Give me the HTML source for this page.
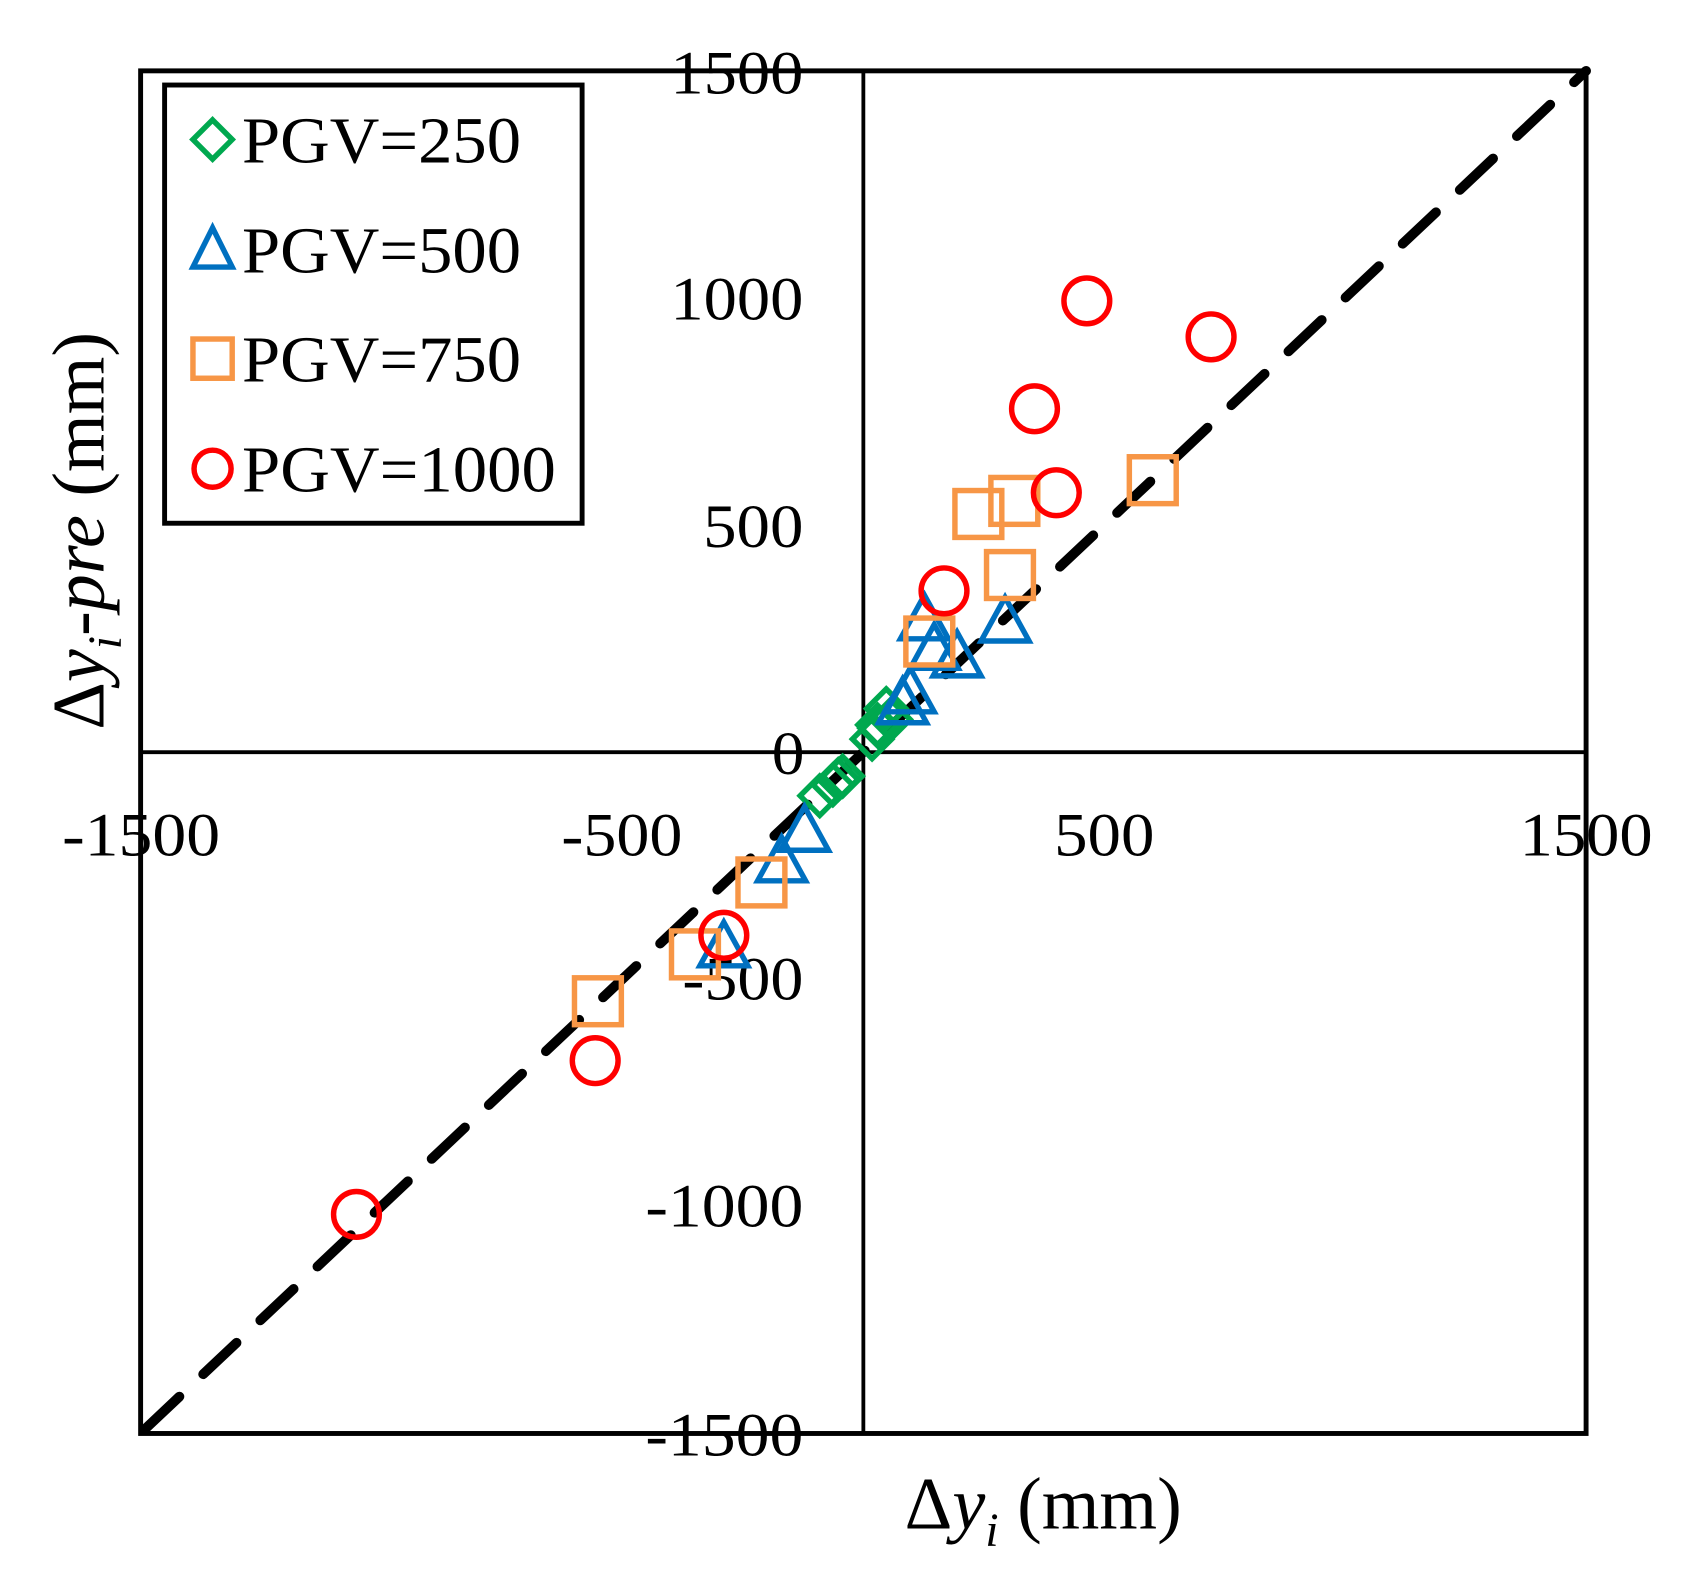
<!DOCTYPE html>
<html><head><meta charset="utf-8"><style>html,body{margin:0;padding:0;background:#fff}svg{display:block}</style></head>
<body>
<svg width="1706" height="1585" viewBox="0 0 1565 1454" preserveAspectRatio="none" xmlns="http://www.w3.org/2000/svg" font-family="Liberation Serif, serif">
<rect width="1565" height="1454" fill="#fff"/>
<g stroke="#000" stroke-width="3.5" fill="none">
<rect x="129" y="65" width="1326" height="1250" stroke-width="4.5"/>
<line x1="792" y1="65" x2="792" y2="1315"/>
<line x1="129" y1="690" x2="1455" y2="690"/>
</g>
<line x1="134" y1="1310" x2="1455" y2="65" stroke="#000" stroke-width="9" stroke-dasharray="42,30" stroke-linecap="round"/>
<g font-size="56" fill="#000" lengthAdjust="spacingAndGlyphs">
<text x="615" y="86" textLength="122" lengthAdjust="spacingAndGlyphs">1500</text>
<text x="615" y="293" textLength="122" lengthAdjust="spacingAndGlyphs">1000</text>
<text x="645" y="502" textLength="92" lengthAdjust="spacingAndGlyphs">500</text>
<text x="708" y="710" textLength="30" lengthAdjust="spacingAndGlyphs">0</text>
<text x="626" y="917" textLength="111" lengthAdjust="spacingAndGlyphs">-500</text>
<text x="592" y="1125" textLength="145" lengthAdjust="spacingAndGlyphs">-1000</text>
<text x="592" y="1335" textLength="145" lengthAdjust="spacingAndGlyphs">-1500</text>
<text x="57" y="785" textLength="145" lengthAdjust="spacingAndGlyphs">-1500</text>
<text x="515" y="785" textLength="111" lengthAdjust="spacingAndGlyphs">-500</text>
<text x="967" y="785" textLength="92" lengthAdjust="spacingAndGlyphs">500</text>
<text x="1394" y="785" textLength="122" lengthAdjust="spacingAndGlyphs">1500</text>
</g>
<!-- green diamonds -->
<g stroke="#00a84f" stroke-width="5" fill="none">
<path d="M813,632 l18,18 l-18,18 l-18,-18z"/>
<path d="M805,647 l18,18 l-18,18 l-18,-18z"/>
<path d="M800,660 l18,18 l-18,18 l-18,-18z"/>
<path d="M807,650 l18,18 l-18,18 l-18,-18z"/>
<path d="M817,642 l18,18 l-18,18 l-18,-18z"/>
<path d="M773,694 l18,18 l-18,18 l-18,-18z"/>
<path d="M764,702 l18,18 l-18,18 l-18,-18z"/>
<path d="M752,712 l18,18 l-18,18 l-18,-18z"/>
<path d="M769,697 l18,18 l-18,18 l-18,-18z"/>
</g>
<!-- blue triangles -->
<g stroke="#0070c0" stroke-width="5" fill="none">
<path d="M922,548 l-22,40 h44z"/>
<path d="M848,546 l-22,40 h44z"/>
<path d="M857,573 l-22,40 h44z"/>
<path d="M878,580 l-22,40 h44z"/>
<path d="M835,613 l-22,40 h44z"/>
<path d="M828,623 l-22,40 h44z"/>
<path d="M738,740 l-22,40 h44z"/>
<path d="M717,768 l-22,40 h44z"/>
<path d="M664,846 l-22,40 h44z"/>
</g>
<!-- orange squares -->
<g stroke="#f79646" stroke-width="5" fill="none">
<rect x="876" y="450" width="43" height="43"/>
<rect x="909" y="438" width="43" height="43"/>
<rect x="1036" y="419" width="43" height="43"/>
<rect x="905" y="506" width="43" height="43"/>
<rect x="831" y="567" width="43" height="43"/>
<rect x="677" y="788" width="43" height="43"/>
<rect x="616" y="854" width="43" height="43"/>
<rect x="527" y="897" width="43" height="43"/>
</g>
<!-- red circles -->
<g stroke="#ff0000" stroke-width="5" fill="none">
<circle cx="997" cy="276" r="21"/>
<circle cx="1111" cy="309" r="21"/>
<circle cx="949" cy="375" r="21"/>
<circle cx="969" cy="452" r="21"/>
<circle cx="866" cy="542" r="21"/>
<circle cx="664" cy="858" r="21"/>
<circle cx="546" cy="973" r="21"/>
<circle cx="327" cy="1114" r="21"/>
</g>
<!-- legend -->
<rect x="151" y="78" width="383" height="402" fill="#fff" stroke="#000" stroke-width="4.5"/>
<path d="M195,110 l18,18 l-18,18 l-18,-18z" stroke="#00a84f" stroke-width="5" fill="none"/>
<path d="M195,209 l-18,36 h36z" stroke="#0070c0" stroke-width="5" fill="none"/>
<rect x="177" y="311" width="36" height="36" stroke="#f79646" stroke-width="5" fill="none"/>
<circle cx="195" cy="430" r="17" stroke="#ff0000" stroke-width="5" fill="none"/>
<g font-size="60" fill="#000">
<text x="222" y="149" textLength="256" lengthAdjust="spacingAndGlyphs">PGV=250</text>
<text x="222" y="250" textLength="256" lengthAdjust="spacingAndGlyphs">PGV=500</text>
<text x="222" y="350" textLength="256" lengthAdjust="spacingAndGlyphs">PGV=750</text>
<text x="222" y="451" textLength="288" lengthAdjust="spacingAndGlyphs">PGV=1000</text>
</g>
<!-- axis titles -->
<text x="957" y="1402" font-size="68" text-anchor="middle">Δ<tspan font-style="italic">y</tspan><tspan font-style="italic" font-size="44" dy="16">i</tspan><tspan dy="-16"> (mm)</tspan></text>
<text transform="translate(95,487) rotate(-90)" font-size="68" text-anchor="middle">Δ<tspan font-style="italic">y</tspan><tspan font-style="italic" font-size="44" dy="16">i</tspan><tspan font-style="italic" dy="-16">-pre</tspan> (mm)</text>
</svg>
</body></html>
